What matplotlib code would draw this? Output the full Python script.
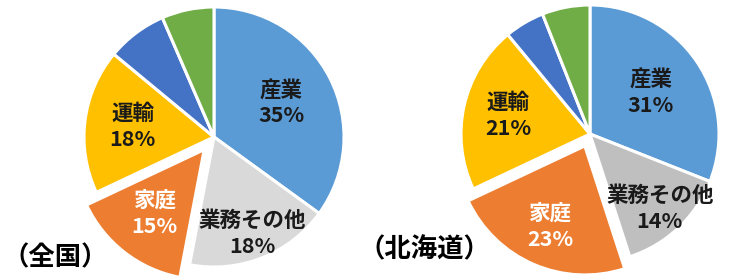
import numpy as np
import matplotlib
matplotlib.use("Agg")
import matplotlib.pyplot as plt

plt.rcParams["font.family"] = ["Noto Sans CJK JP", "DejaVu Sans"]

# ── Data ──────────────────────────────────────────────────────────────────────
labels = ["産業", "業務その他", "家庭", "運輸", "その他1", "その他2"]
zenkoku = [35, 18, 15, 18, 7.5, 6.5]
hokkaido = [31, 14, 23, 21, 5, 6]
shown = [True, True, True, True, False, False]

colors_left = ["#5B9BD5", "#D9D9D9", "#ED7D31", "#FFC000", "#4472C4", "#70AD47"]
colors_right = ["#5B9BD5", "#BFBFBF", "#ED7D31", "#FFC000", "#4472C4", "#70AD47"]
text_colors = ["#1a1a1a", "#1a1a1a", "white", "#1a1a1a", "white", "white"]

fig = plt.figure(figsize=(7.5, 2.8), dpi=100)
ax = fig.add_axes([0, 0, 1, 1])


def draw_pie(values, colors, center, radius, explode_px, label_dist, title, title_xy):
    # pie() offsets exploded wedges in data units, here pixels
    explode = [0, 0, explode_px, 0, 0, 0]
    wedges, _ = ax.pie(values, colors=colors, startangle=90, counterclock=False,
                       center=center, radius=radius, explode=explode, frame=True,
                       wedgeprops={"edgecolor": "white", "linewidth": 2.2})
    for w, lab, val, show, tc, d in zip(wedges, labels, values, shown, text_colors, label_dist):
        if not show:
            continue
        mid = np.deg2rad((w.theta1 + w.theta2) / 2)
        cx, cy = w.center
        x = cx + d * radius * np.cos(mid)
        y = cy + d * radius * np.sin(mid)
        ax.text(x, y, f"{lab}\n{val:.0f}%", ha="center", va="center",
                fontsize=15.5, fontweight="bold", color=tc, linespacing=1.3)
    ax.text(title_xy[0], title_xy[1], title, ha="left", va="center",
            fontsize=19, fontweight="bold", color="black")


draw_pie(zenkoku, colors_left, (214, 143), 130, 16,
         [0.58, 0.80, 0.62, 0.63, 0, 0], "（全国）", (2, 22))
draw_pie(hokkaido, colors_right, (590, 146), 129, 13,
         [0.57, 0.79, 0.68, 0.65, 0, 0], "（北海道）", (358, 30))

ax.set_xlim(0, 750)
ax.set_ylim(0, 280)
ax.set_aspect("equal")
ax.axis("off")

fig.savefig("out.png", dpi=100)
